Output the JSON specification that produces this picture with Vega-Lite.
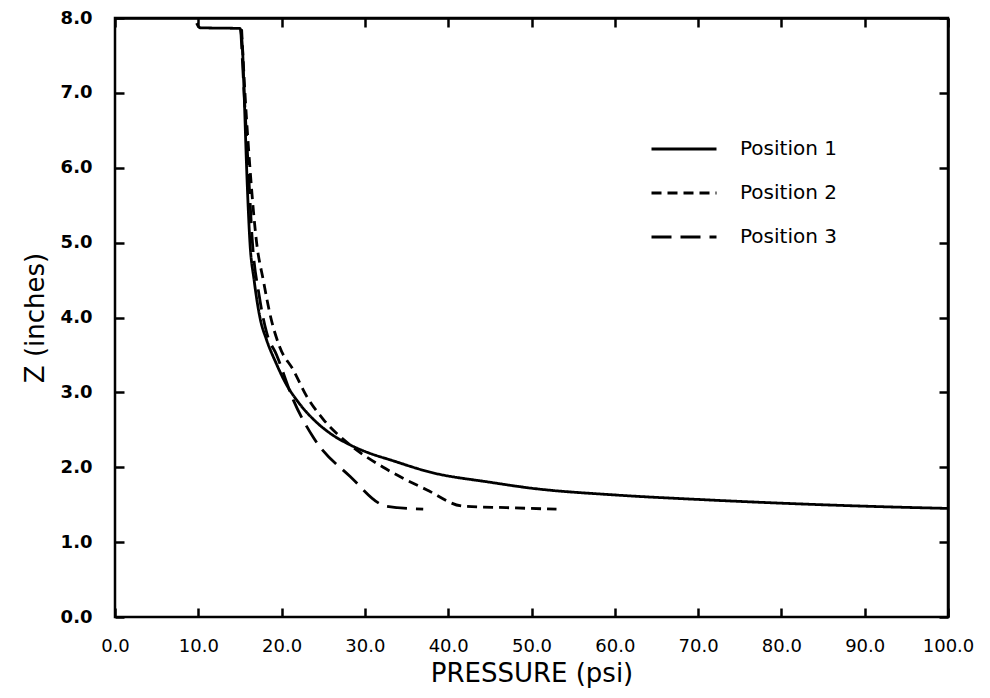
{
  "$schema": "https://vega.github.io/schema/vega-lite/v6.json",
  "width": 833,
  "height": 599,
  "autosize": "none",
  "padding": {"left": 115, "top": 18, "right": 42, "bottom": 81},
  "background": "white",
  "config": {
    "view": {"stroke": "black", "strokeWidth": 2.5},
    "font": "DejaVu Sans",
    "axis": {
      "domainColor": "black", "domainWidth": 2.5, "tickColor": "black", "tickWidth": 2.5,
      "labelColor": "black", "titleColor": "black", "grid": false,
      "labelFont": "DejaVu Sans", "titleFont": "DejaVu Sans",
      "labelFontSize": 18, "titleFontSize": 26, "titleFontWeight": "normal"
    }
  },
  "data": {
    "values": [
      {"series": "Position 1", "p": 9.8, "z": 7.93},
      {"series": "Position 1", "p": 10.2, "z": 7.87},
      {"series": "Position 1", "p": 15.0, "z": 7.86},
      {"series": "Position 1", "p": 15.3, "z": 7.6},
      {"series": "Position 1", "p": 15.5, "z": 7.0},
      {"series": "Position 1", "p": 15.8, "z": 6.0},
      {"series": "Position 1", "p": 16.2, "z": 5.0},
      {"series": "Position 1", "p": 16.7, "z": 4.5},
      {"series": "Position 1", "p": 17.4, "z": 4.0},
      {"series": "Position 1", "p": 18.2, "z": 3.7},
      {"series": "Position 1", "p": 19.3, "z": 3.4},
      {"series": "Position 1", "p": 20.5, "z": 3.12},
      {"series": "Position 1", "p": 22.0, "z": 2.87},
      {"series": "Position 1", "p": 24.2, "z": 2.6},
      {"series": "Position 1", "p": 26.0, "z": 2.44},
      {"series": "Position 1", "p": 28.2, "z": 2.3},
      {"series": "Position 1", "p": 30.5, "z": 2.19},
      {"series": "Position 1", "p": 33.0, "z": 2.1},
      {"series": "Position 1", "p": 38.0, "z": 1.93},
      {"series": "Position 1", "p": 45.0, "z": 1.8},
      {"series": "Position 1", "p": 50.0, "z": 1.72},
      {"series": "Position 1", "p": 60.0, "z": 1.63},
      {"series": "Position 1", "p": 70.0, "z": 1.57},
      {"series": "Position 1", "p": 80.0, "z": 1.52},
      {"series": "Position 1", "p": 90.0, "z": 1.48},
      {"series": "Position 1", "p": 100.0, "z": 1.45},
      {"series": "Position 2", "p": 15.2, "z": 7.85},
      {"series": "Position 2", "p": 15.6, "z": 7.0},
      {"series": "Position 2", "p": 16.2, "z": 6.0},
      {"series": "Position 2", "p": 17.0, "z": 5.0},
      {"series": "Position 2", "p": 17.8, "z": 4.5},
      {"series": "Position 2", "p": 18.7, "z": 4.0},
      {"series": "Position 2", "p": 19.8, "z": 3.6},
      {"series": "Position 2", "p": 21.4, "z": 3.3},
      {"series": "Position 2", "p": 23.0, "z": 2.95},
      {"series": "Position 2", "p": 25.0, "z": 2.64},
      {"series": "Position 2", "p": 28.2, "z": 2.3},
      {"series": "Position 2", "p": 32.2, "z": 2.0},
      {"series": "Position 2", "p": 37.4, "z": 1.7},
      {"series": "Position 2", "p": 41.8, "z": 1.48},
      {"series": "Position 2", "p": 47.0, "z": 1.46},
      {"series": "Position 2", "p": 53.0, "z": 1.44},
      {"series": "Position 3", "p": 15.1, "z": 7.85},
      {"series": "Position 3", "p": 15.5, "z": 7.0},
      {"series": "Position 3", "p": 16.0, "z": 6.0},
      {"series": "Position 3", "p": 16.5, "z": 5.0},
      {"series": "Position 3", "p": 17.3, "z": 4.3},
      {"series": "Position 3", "p": 18.2, "z": 3.8},
      {"series": "Position 3", "p": 19.4, "z": 3.5},
      {"series": "Position 3", "p": 21.4, "z": 2.9},
      {"series": "Position 3", "p": 23.8, "z": 2.4},
      {"series": "Position 3", "p": 28.2, "z": 1.88},
      {"series": "Position 3", "p": 32.6, "z": 1.48},
      {"series": "Position 3", "p": 37.0, "z": 1.44}
    ]
  },
  "resolve": {"axis": {"x": "independent", "y": "independent"}},
  "layer": [
    {
      "mark": {"type": "line", "color": "black", "strokeWidth": 2.8, "interpolate": "monotone"},
      "encoding": {
        "x": {
          "field": "p", "type": "quantitative",
          "scale": {"domain": [0, 100], "nice": false, "zero": false},
          "axis": {"orient": "bottom", "values": [0,10,20,30,40,50,60,70,80,90,100], "format": ".1f", "domain": false, "ticks": true, "tickSize": 9, "offset": -9, "labelPadding": 20, "title": "PRESSURE (psi)", "titlePadding": 5, "labelFlush": false, "labelOverlap": false}
        },
        "y": {
          "field": "z", "type": "quantitative",
          "scale": {"domain": [0, 8], "nice": false, "zero": false},
          "axis": {"orient": "left", "values": [0,1,2,3,4,5,6,7,8], "format": ".1f", "domain": false, "ticks": true, "tickSize": 9, "offset": -9, "labelPadding": 23, "title": "Z (inches)", "titlePadding": 12, "labelFontWeight": "bold", "labelFlush": false, "labelOverlap": false}
        },
        "strokeDash": {
          "field": "series", "type": "nominal",
          "scale": {"domain": ["Position 1", "Position 2", "Position 3"], "range": [[1, 0], [10, 6], [20, 9]]},
          "legend": {
            "title": null, "orient": "none", "legendX": 535, "legendY": 97,
            "symbolType": "stroke", "symbolSize": 4225, "symbolStrokeWidth": 2.8, "symbolStrokeColor": "black",
            "labelFontSize": 20, "labelFont": "DejaVu Sans", "labelColor": "black", "labelOffset": 22, "rowPadding": -14
          }
        }
      }
    },
    {
      "mark": {"type": "point", "opacity": 0},
      "encoding": {
        "x": {"field": "p", "type": "quantitative", "axis": {"orient": "top", "values": [0,10,20,30,40,50,60,70,80,90,100], "labels": false, "tickSize": -9, "title": null}},
        "y": {"field": "z", "type": "quantitative", "axis": {"orient": "right", "values": [0,1,2,3,4,5,6,7,8], "labels": false, "tickSize": -9, "title": null}}
      }
    }
  ]
}
